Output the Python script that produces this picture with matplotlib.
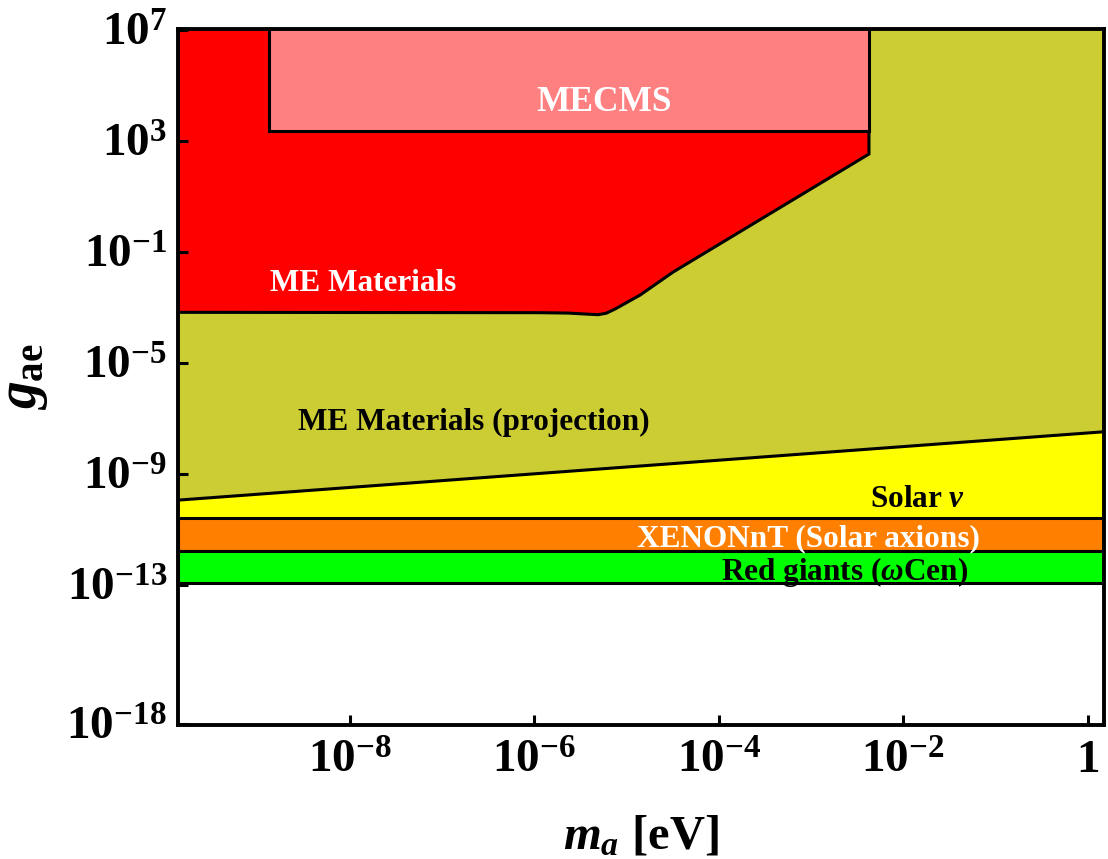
import matplotlib
matplotlib.use('Agg')
import matplotlib.pyplot as plt

plt.rcParams['font.family'] = ['Liberation Serif', 'DejaVu Serif']
plt.rcParams['font.weight'] = 'bold'
plt.rcParams['axes.labelweight'] = 'bold'
plt.rcParams['mathtext.fontset'] = 'custom'
plt.rcParams['mathtext.rm'] = 'Liberation Serif:bold'
plt.rcParams['mathtext.it'] = 'Liberation Serif:bold:italic'
plt.rcParams['mathtext.bf'] = 'Liberation Serif:bold'

# -------------------- data --------------------
ma_range = [1.36e-10, 1.51]
g_range = [9.0e-19, 1.06e7]
g_top = 1e8

# solar neutrino bound, straight in log-log
solar_ma = [1e-10, 2.0]
solar_g = [1.06e-10, 3.56e-8]

# horizontal bands
xenon_g = [1.7e-12, 2.5e-11]
rg_g = [1.15e-13, 1.7e-12]

# ME materials excluded region (lower boundary)
me_ma = [1e-10, 1.15e-6, 2.3e-6, 4.0e-6, 4.9e-6, 6.0e-6, 7.5e-6, 1.4e-5, 3.2e-5, 4.26e-3, 4.26e-3]
me_g = [6.7e-4, 6.5e-4, 6.3e-4, 5.7e-4, 5.5e-4, 6.2e-4, 8.8e-4, 2.8e-3, 1.9e-2, 3.4e2, g_top]

# MECMS box
mecms_ma = [1.33e-9, 4.26e-3]
mecms_g = [2.2e3, g_top]

xtick_vals = [1e-8, 1e-6, 1e-4, 1e-2, 1]
xtick_labels = [r'$10^{-8}$', r'$10^{-6}$', r'$10^{-4}$', r'$10^{-2}$', r'$1$']
ytick_vals = [1e7, 1e3, 1e-1, 1e-5, 1e-9, 1e-13, 1e-18]
ytick_labels = [r'$10^{7}$', r'$10^{3}$', r'$10^{-1}$', r'$10^{-5}$',
                r'$10^{-9}$', r'$10^{-13}$', r'$10^{-18}$']

# -------------------- plot --------------------
fig = plt.figure(figsize=(11.08, 8.59), dpi=100)
ax = fig.add_axes([178/1108, 1 - 725/859, 926/1108, 695.7/859])
ax.set_xscale('log')
ax.set_yscale('log')

lw = 2.2
ax.fill_between(solar_ma, solar_g, g_top, color='#CCCC33', lw=0)
ax.fill_between(solar_ma, xenon_g[1], solar_g, color='#FFFF00', lw=0)
ax.plot(solar_ma, solar_g, color='k', lw=lw)
ax.axhspan(xenon_g[0], xenon_g[1], fc='#FF8000', ec='k', lw=lw)
ax.axhspan(rg_g[0], rg_g[1], fc='#00FF00', ec='k', lw=lw)
ax.fill(me_ma + [me_ma[0]], me_g + [g_top], fc='#FF0000', ec='k', lw=lw)
ax.fill([mecms_ma[0], mecms_ma[1], mecms_ma[1], mecms_ma[0]],
        [mecms_g[0], mecms_g[0], mecms_g[1], mecms_g[1]],
        fc='#FF8080', ec='k', lw=lw)

fs = 22.5
ax.text(5.7e-6, 1.23e4, 'MECMS', color='white', fontsize=25.5, ha='center', va='baseline')
ax.text(1.35e-9, 4.0e-3, 'ME Materials', color='white', fontsize=fs, ha='left', va='baseline')
ax.text(2.2e-7, 3.9e-8, 'ME Materials (projection)', color='black', fontsize=fs,
        ha='center', va='baseline')
ax.text(1.45e-2, 6.5e-11, r'Solar $\nu$', color='black', fontsize=fs, ha='center', va='baseline')
ax.text(9.4e-4, 2.54e-12, 'XENONnT (Solar axions)', color='white', fontsize=fs,
        ha='center', va='baseline')
ax.text(2.3e-3, 1.55e-13, r'Red giants ($\omega$Cen)', color='black', fontsize=fs,
        ha='center', va='baseline')

ax.set_xlim(ma_range)
ax.set_ylim(g_range)
ax.set_xticks(xtick_vals)
ax.set_xticklabels(xtick_labels)
ax.set_yticks(ytick_vals)
ax.set_yticklabels(ytick_labels)
ax.minorticks_off()
ax.tick_params(direction='in', length=7, width=2.2, labelsize=34)
ax.tick_params(axis='x', pad=11)
ax.tick_params(axis='y', pad=8)
for s in ax.spines.values():
    s.set_linewidth(2.8)

ax.set_xlabel(r'$m_a\ \mathrm{[eV]}$', fontsize=35, fontweight='bold')
ax.set_ylabel(r'$g_{\mathrm{ae}}$', fontsize=40, fontweight='bold')
ax.xaxis.set_label_coords(0.5, -0.13)
ax.yaxis.set_label_coords(-0.138, 0.5)

fig.savefig('out.png', dpi=100)
plt.close(fig)
